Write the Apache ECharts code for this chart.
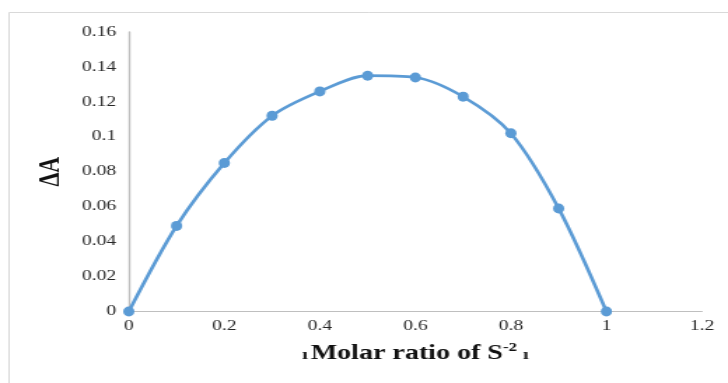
<!DOCTYPE html>
<html>
<head>
<meta charset="utf-8">
<script src="https://cdn.jsdelivr.net/npm/echarts@6/dist/echarts.min.js"></script>
<style>
  html, body { margin: 0; padding: 0; background: #ffffff; overflow: hidden; }
  /* the figure is drawn at a narrower width and widened horizontally */
  #chart { width: 520px; height: 383px; transform: scaleX(1.4); transform-origin: 0 0; }
</style>
</head>
<body>
<div id="chart"></div>
<script>
// Molar ratio of S^-2 (x) versus absorbance change ΔA (y)
const molarRatio = [0, 0.1, 0.2, 0.3, 0.4, 0.5, 0.6, 0.7, 0.8, 0.9, 1.0];
const deltaA = [0, 0.049, 0.085, 0.112, 0.126, 0.135, 0.134, 0.123, 0.102, 0.059, 0];

const xTicks = { min: 0, max: 1.2, step: 0.2 };
const yTicks = { min: 0, max: 0.16, step: 0.02 };

const points = molarRatio.map((x, i) => [x, deltaA[i]]);

const serif = 'Liberation Serif, Times New Roman, serif';
const blue = '#5b9bd5';

const chart = echarts.init(document.getElementById('chart'));
chart.setOption({
  animation: false,
  backgroundColor: '#ffffff',
  graphic: [{
    type: 'rect',
    shape: { x: 6.5, y: 12.5, width: 600, height: 400 },
    style: { fill: 'none', stroke: '#d9d9d9', lineWidth: 1 },
    silent: true
  }],
  grid: { left: 92, right: 18.6, top: 32, bottom: 71.5, containLabel: false },
  xAxis: {
    type: 'value',
    min: xTicks.min, max: xTicks.max, interval: xTicks.step,
    axisLine: { show: true, lineStyle: { color: '#bfbfbf', width: 1.2 } },
    axisTick: { show: false },
    splitLine: { show: false },
    axisLabel: { color: '#262626', fontFamily: serif, fontSize: 14, margin: 8 },
    name: '{bar|ı}{main|Molar ratio of S}{sup|-2}{gap| }{bar|ı}',
    nameLocation: 'middle',
    nameGap: 30,
    nameTextStyle: {
      rich: {
        main: { fontFamily: serif, fontWeight: 'bold', fontSize: 20, color: '#111', lineHeight: 24 },
        sup: { fontFamily: serif, fontWeight: 'bold', fontSize: 12, color: '#111', verticalAlign: 'top', lineHeight: 24, padding: [0, 0, 6, 0] },
        gap: { fontSize: 8, lineHeight: 24 },
        bar: { fontFamily: serif, fontWeight: 'bold', fontSize: 15, color: '#222', lineHeight: 24, padding: [4, 2, 0, 2] }
      }
    }
  },
  yAxis: {
    type: 'value',
    min: yTicks.min, max: yTicks.max, interval: yTicks.step,
    axisLine: { show: true, lineStyle: { color: '#bfbfbf', width: 1.4 } },
    axisTick: { show: false },
    splitLine: { show: false },
    axisLabel: { color: '#262626', fontFamily: serif, fontSize: 14, margin: 9 },
    name: 'ΔA',
    nameLocation: 'middle',
    nameGap: 44,
    nameTextStyle: { fontFamily: serif, fontWeight: 'bold', fontSize: 22, color: '#111' }
  },
  series: [{
    type: 'line',
    data: points,
    smooth: 0.3,
    smoothMonotone: 'none',
    symbol: 'circle',
    symbolSize: [8, 10],
    lineStyle: { color: blue, width: 2.6 },
    itemStyle: { color: blue },
    clip: false
  }]
});
</script>
</body>
</html>
